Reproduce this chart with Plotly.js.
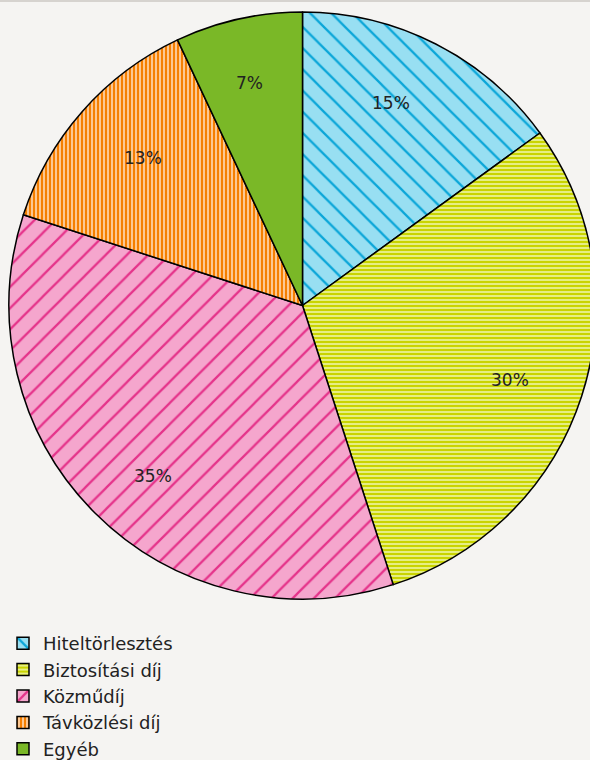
<!DOCTYPE html>
<html>
<head>
<meta charset="utf-8">
<script src="https://cdn.plot.ly/plotly-3.0.1.min.js"></script>
<style>
html,body{margin:0;padding:0;background:#f5f4f2;overflow:hidden;width:590px;height:760px;}
#chart{width:600px;height:780px;}
#topline{position:absolute;left:0;top:0;width:590px;height:2px;background:#d6d3cf;z-index:10;}
</style>
</head>
<body>
<div id="topline"></div>
<div id="chart"></div>
<script>
const labels = ['Hiteltörlesztés', 'Biztosítási díj', 'Közműdíj', 'Távközlési díj', 'Egyéb'];
const values = [15, 30, 35, 13, 7];
const lineColors = ['#0ba6d8', '#c9d400', '#e5338a', '#f57f00', '#7ab827'];
const bgColors = ['#98dff2', '#e6ee84', '#f5a6cd', '#fcc791', '#7ab827'];
const shapes = ['\\', '-', '/', '|', ''];
const sizes = [15, 4, 15, 4, 8];
const solidities = [0.15, 0.5, 0.15, 0.5, 0.3];

// Figure is slightly larger than the 590x760 view: the pie touches the right edge, as in the reference.
const W = 600, H = 780;
const pieLeft = 9, pieTop = 12, pieSize = 587;
const domX = [pieLeft / W, (pieLeft + pieSize) / W];
const domY = [1 - (pieTop + pieSize) / H, 1 - pieTop / H];
const cx = (domX[0] + domX[1]) / 2, cy = (domY[0] + domY[1]) / 2;
const rx = pieSize / 2 / W, ry = pieSize / 2 / H;

const total = values.reduce((a, b) => a + b, 0);
const annotations = [];
let cum = 0;
values.forEach((v) => {
  const mid = (cum + v / 2) / total * 2 * Math.PI;
  cum += v;
  const f = 0.82;
  annotations.push({
    x: cx + rx * f * Math.sin(mid),
    y: cy + ry * f * Math.cos(mid),
    xref: 'paper', yref: 'paper',
    text: Math.round(v / total * 100) + '%',
    showarrow: false,
    font: {family: 'DejaVu Sans', size: 17, color: '#222222'}
  });
});

const trace = {
  type: 'pie',
  labels: labels,
  values: values,
  sort: false,
  direction: 'clockwise',
  rotation: 0,
  textinfo: 'none',
  hoverinfo: 'label+percent',
  marker: {
    colors: lineColors,
    line: {color: '#000000', width: 1.5},
    pattern: {
      shape: shapes,
      bgcolor: bgColors,
      size: sizes,
      solidity: solidities,
      fillmode: 'replace'
    }
  },
  domain: {x: domX, y: domY}
};

const layout = {
  width: W,
  height: H,
  paper_bgcolor: '#f5f4f2',
  plot_bgcolor: '#f5f4f2',
  margin: {l: 0, r: 0, t: 0, b: 0},
  showlegend: true,
  legend: {
    orientation: 'v',
    x: 3 / W, xanchor: 'left',
    y: (H - 625) / H, yanchor: 'top',
    font: {family: 'DejaVu Sans', size: 18, color: '#222222'},
    bgcolor: 'rgba(0,0,0,0)',
    traceorder: 'normal',
    itemwidth: 30,
    tracegroupgap: 0
  },
  annotations: annotations
};

Plotly.newPlot('chart', [trace], layout, {displayModeBar: false, staticPlot: true});
</script>
</body>
</html>
